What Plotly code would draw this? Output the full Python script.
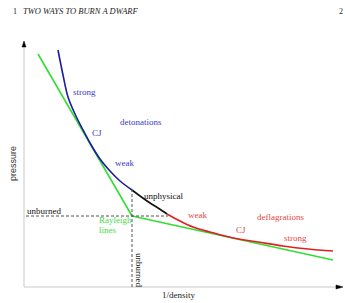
import plotly.graph_objects as go

# Hugoniot curve (schematic): x = 1/density, y = pressure (arbitrary units)
det_x = [34, 39, 44, 51, 58, 66, 76, 86, 96, 108]
det_y = [237, 212, 190, 173, 159, 144, 128, 116, 106, 97]
unphys_x = [108, 116, 126, 134, 143]
unphys_y = [97, 91, 84, 79, 73]
defl_x = [143, 156, 169, 186, 209, 234, 259, 284, 309]
defl_y = [73, 66, 60, 55, 49, 45, 41, 38, 36]
# Rayleigh lines through the unburned state
ray1_x = [14, 108]
ray1_y = [233, 71]
ray2_x = [108, 309]
ray2_y = [71, 27]
unburned_x = 108
unburned_y = 71

BLUE_LINE = "#1c1ca0"
BLUE_TXT = "#3a3ac8"
RED_LINE = "#e02020"
RED_TXT = "#e84848"
GREEN = "#33dd33"
SERIF = "Liberation Serif, Times New Roman, serif"

fig = go.Figure()
fig.add_trace(go.Scatter(x=ray1_x, y=ray1_y, mode="lines", line=dict(color=GREEN, width=1.6)))
fig.add_trace(go.Scatter(x=ray2_x, y=ray2_y, mode="lines", line=dict(color=GREEN, width=1.6)))
fig.add_trace(go.Scatter(x=det_x, y=det_y, mode="lines", line=dict(color=BLUE_LINE, width=1.6, shape="spline")))
fig.add_trace(go.Scatter(x=unphys_x, y=unphys_y, mode="lines", line=dict(color="#111111", width=1.6, shape="spline")))
fig.add_trace(go.Scatter(x=defl_x, y=defl_y, mode="lines", line=dict(color=RED_LINE, width=1.6, shape="spline")))

shapes = [
    # axes
    dict(type="line", x0=0, y0=0, x1=0, y1=243, line=dict(color="#c8c8c8", width=1)),
    dict(type="line", x0=0, y0=0, x1=314, y1=0, line=dict(color="#c8c8c8", width=1)),
    dict(type="path", path="M -2,240 L 2,240 L 0,246 Z", fillcolor="black", line=dict(color="black", width=0.5)),
    dict(type="path", path="M 312,-2 L 312,2 L 319,0 Z", fillcolor="black", line=dict(color="black", width=0.5)),
    # dashed guides to the unburned state
    dict(type="line", x0=2, y0=unburned_y, x1=144, y1=unburned_y, line=dict(color="#555555", width=1, dash="3px,2px")),
    dict(type="line", x0=unburned_x, y0=0, x1=unburned_x, y1=97, line=dict(color="#555555", width=1, dash="3px,2px")),
]

def lab(x, y, t, c, size=9, **kw):
    return dict(x=x, y=y, text=t, showarrow=False, font=dict(family=SERIF, size=size, color=c), **kw)

annotations = [
    lab(60, 195, "strong", BLUE_TXT),
    lab(117, 165, "detonations", BLUE_TXT),
    lab(73, 154, "CJ", BLUE_TXT),
    lab(100, 124, "weak", BLUE_TXT),
    lab(139, 91, "unphysical", "#111111"),
    lab(173, 72, "weak", RED_TXT),
    lab(256, 70, "deflagrations", RED_TXT),
    lab(217, 57, "CJ", RED_TXT),
    lab(271, 49, "strong", RED_TXT),
    lab(73, 67, "Rayleigh", "#44dd44", xanchor="left"),
    lab(73, 57, "lines", "#44dd44", xanchor="left"),
    lab(20, 76, "unburned", "#111111"),
    lab(115, 17, "unburned", "#111111", textangle=90),
    lab(154, -8, "1/density", "#222222"),
    dict(x=-11, y=123, text="pressure", showarrow=False, textangle=-90,
         font=dict(family="Liberation Sans, Arial, sans-serif", size=9, color="#333333")),
    lab(-13, 276, "1", "#222222", size=8, xanchor="left"),
    lab(-3, 276, "<i>TWO WAYS TO BURN A DWARF</i>", "#222222", size=8.5, xanchor="left"),
    lab(317, 276, "2", "#222222", size=8),
]

fig.update_layout(
    width=345, height=303,
    margin=dict(l=0, r=0, t=0, b=0),
    paper_bgcolor="white", plot_bgcolor="white",
    showlegend=False,
    xaxis=dict(range=[-24, 321], visible=False, fixedrange=True),
    yaxis=dict(range=[-16, 287], visible=False, fixedrange=True),
    shapes=shapes,
    annotations=annotations,
)
fig.write_html("out.html", config=dict(displayModeBar=False),
               post_script="document.body.style.margin='0';document.body.style.overflow='hidden';")
